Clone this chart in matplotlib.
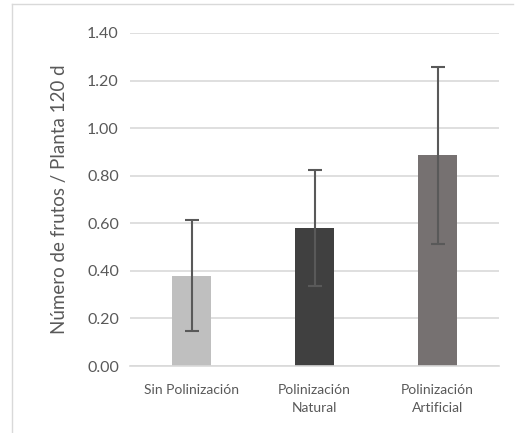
import matplotlib.pyplot as plt
from matplotlib.lines import Line2D

# datos del grafico
categorias = ["Sin Polinización", "Polinización\nNatural", "Polinización\nArtificial"]
medias = [0.38, 0.58, 0.885]
errores = [0.232, 0.242, 0.37]
colores = ["#BFBFBF", "#404040", "#767171"]

plt.rcParams['font.family'] = ['Lato', 'DejaVu Sans']

fig = plt.figure(figsize=(5.16, 4.33), dpi=100)
ax = fig.add_axes([130 / 516, 1 - 366 / 433, 369 / 516, 333 / 433])

x = range(len(categorias))
ax.bar(x, medias, width=0.31, color=colores, zorder=2)
ax.errorbar(x, medias, yerr=errores, fmt="none", ecolor="#595959",
            elinewidth=1.5, capsize=5, capthick=1.5, zorder=3)

ax.set_xlim(-0.5, 2.5)
ax.set_ylim(0, 1.4)
ax.set_yticks([0, 0.2, 0.4, 0.6, 0.8, 1.0, 1.2, 1.4])
ax.set_yticklabels(["%.2f" % v for v in ax.get_yticks()], color="#595959", fontsize=11.5)
ax.set_xticks(list(x))
ax.set_xticklabels(categorias, color="#595959", fontsize=10, linespacing=1.6)
ax.tick_params(length=0, pad=8)
ax.tick_params(axis='x', pad=13)
ax.yaxis.grid(True, color="#D9D9D9", linewidth=1.2, zorder=0)
ax.set_axisbelow(True)
for s in ["top", "right", "left"]:
    ax.spines[s].set_visible(False)
ax.spines["bottom"].set_color("#D9D9D9")
ax.spines["bottom"].set_linewidth(1.2)

ax.set_ylabel("Número de frutos / Planta 120 d", color="#595959", fontsize=13.5, labelpad=14)

# borde del area del grafico
fig.add_artist(Line2D([12 / 516, 12 / 516], [0, 1 - 4 / 433], transform=fig.transFigure, color="#D9D9D9", lw=1))
fig.add_artist(Line2D([12 / 516, 513 / 516], [1 - 4 / 433, 1 - 4 / 433], transform=fig.transFigure, color="#D9D9D9", lw=1))

plt.savefig("out.png", dpi=100)
